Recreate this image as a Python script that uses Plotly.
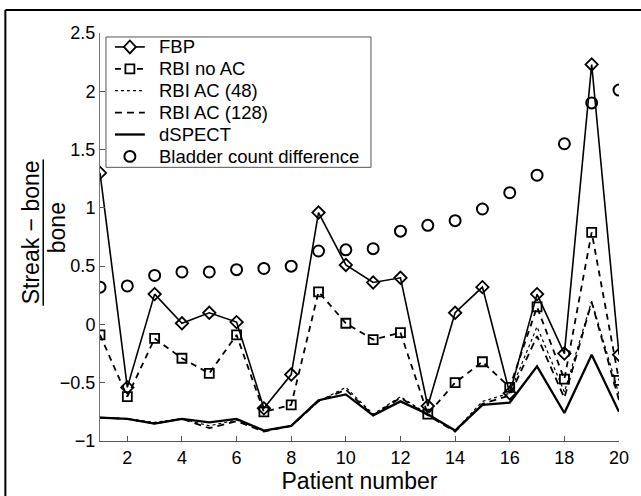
import plotly.graph_objects as go

patients = list(range(1, 21))
fbp = [1.30, -0.54, 0.26, 0.01, 0.10, 0.02, -0.72, -0.43, 0.96, 0.51,
       0.36, 0.40, -0.70, 0.10, 0.32, -0.59, 0.26, -0.25, 2.23, -0.26]
rbi_no_ac = [-0.09, -0.62, -0.12, -0.29, -0.42, -0.09, -0.75, -0.69, 0.28, 0.01,
             -0.13, -0.07, -0.77, -0.50, -0.32, -0.54, 0.15, -0.47, 0.79, -0.48]
rbi_ac48 = [-0.80, -0.81, -0.84, -0.81, -0.87, -0.82, -0.91, -0.87, -0.66, -0.54,
            -0.77, -0.62, -0.77, -0.91, -0.66, -0.59, -0.02, -0.58, 0.20, -0.60]
rbi_ac128 = [-0.80, -0.81, -0.85, -0.81, -0.89, -0.83, -0.92, -0.87, -0.66, -0.56,
             -0.78, -0.63, -0.78, -0.92, -0.68, -0.61, -0.10, -0.63, 0.19, -0.65]
dspect = [-0.80, -0.81, -0.85, -0.81, -0.84, -0.81, -0.91, -0.87, -0.65, -0.60,
          -0.78, -0.66, -0.77, -0.91, -0.69, -0.67, -0.36, -0.76, -0.26, -0.75]
bladder = [0.32, 0.33, 0.42, 0.45, 0.45, 0.47, 0.48, 0.50, 0.63, 0.64,
           0.65, 0.80, 0.85, 0.89, 0.99, 1.13, 1.28, 1.55, 1.90, 2.01]

series_names = ["FBP", "RBI no AC", "RBI AC (48)", "RBI AC (128)", "dSPECT",
                "Bladder count difference"]

x_ticks = [2, 4, 6, 8, 10, 12, 14, 16, 18, 20]
y_ticks = [-1, -0.5, 0, 0.5, 1, 1.5, 2, 2.5]
y_tick_text = ["\u22121", "\u22120.5", "0", "0.5", "1", "1.5", "2", "2.5"]

FONT = "Liberation Sans, Arial, Helvetica, sans-serif"

styles = [
    dict(mode="lines+markers", line=dict(color="black", width=1.6),
         marker=dict(symbol="diamond-open", size=9.5, color="black",
                     line=dict(color="black", width=1.8))),
    dict(mode="lines+markers", line=dict(color="black", width=1.8, dash="6px,5px"),
         marker=dict(symbol="square-open", size=9, color="black",
                     line=dict(color="black", width=1.8))),
    dict(mode="lines", line=dict(color="black", width=1.2, dash="dot")),
    dict(mode="lines", line=dict(color="black", width=1.8, dash="7px,5px")),
    dict(mode="lines", line=dict(color="black", width=2.3)),
    dict(mode="markers", marker=dict(symbol="circle-open", size=11, color="black",
                                     line=dict(color="black", width=2))),
]
values = [fbp, rbi_no_ac, rbi_ac48, rbi_ac128, dspect, bladder]

fig = go.Figure()
for name, vals, st in zip(series_names, values, styles):
    fig.add_trace(go.Scatter(x=patients, y=vals, name=name, showlegend=False, **st))

L, R, T, B = 100, 20, 33, 53
W, H = 641, 496
pw, ph = W - L - R, H - T - B


def px_x(p):
    return (p - L) / pw


def px_y(p):
    return (H - B - p) / ph


fig.update_layout(
    width=W, height=H,
    margin=dict(l=L, r=R, t=T, b=B),
    paper_bgcolor="white", plot_bgcolor="white",
    font=dict(family=FONT, size=18, color="black"),
    showlegend=False,
    xaxis=dict(range=[1, 20], tickvals=x_ticks, ticks="inside", ticklen=5,
               tickcolor="#555555", showline=True, linecolor="#555555", linewidth=1,
               showgrid=False, zeroline=False, mirror=False,
               tickfont=dict(family=FONT, size=18, color="black"),
               title=dict(text="Patient number", font=dict(family=FONT, size=23, color="black"),
                          standoff=0)),
    yaxis=dict(range=[-1, 2.5], tickvals=y_ticks, ticktext=y_tick_text, ticks="inside",
               ticklen=5, tickcolor="#555555", showline=True, linecolor="#777777",
               linewidth=1, showgrid=False, zeroline=False, mirror=False,
               tickfont=dict(family=FONT, size=18, color="black")),
)

# y-axis title as a fraction
fig.add_annotation(text="Streak \u2212 bone", xref="paper", yref="paper",
                   x=px_x(31), y=px_y(233), xanchor="center", yanchor="middle",
                   textangle=-90, showarrow=False,
                   font=dict(family=FONT, size=23, color="black"))
fig.add_annotation(text="bone", xref="paper", yref="paper",
                   x=px_x(57), y=px_y(229), xanchor="center", yanchor="middle",
                   textangle=-90, showarrow=False,
                   font=dict(family=FONT, size=23, color="black"))
fig.add_shape(type="line", xref="paper", yref="paper",
              x0=px_x(43), x1=px_x(43), y0=px_y(160), y1=px_y(307),
              line=dict(color="black", width=1.5))

# manual legend
fig.add_shape(type="rect", xref="paper", yref="paper",
              x0=px_x(106), x1=px_x(372), y0=px_y(168), y1=px_y(37),
              line=dict(color="#555555", width=1), fillcolor="white", layer="above")
row_y = [47 + 22 * i for i in range(6)]
sx0, sx1, scx, tx = 115, 145, 130, 159
legend_dash = ["solid", "6px,5px", "dot", "7px,5px", "solid", None]
legend_width = [1.6, 1.8, 1.2, 1.8, 2.3, None]
for i, (name, ry) in enumerate(zip(series_names, row_y)):
    if legend_dash[i] is not None:
        fig.add_shape(type="line", xref="paper", yref="paper",
                      x0=px_x(sx0), x1=px_x(sx1), y0=px_y(ry), y1=px_y(ry),
                      line=dict(color="black", width=legend_width[i], dash=legend_dash[i]),
                      layer="above")
    if i == 0:
        path = "M {},{} L {},{} L {},{} L {},{} Z".format(
            px_x(scx - 6), px_y(ry), px_x(scx), px_y(ry - 6.5),
            px_x(scx + 6), px_y(ry), px_x(scx), px_y(ry + 6.5))
        fig.add_shape(type="path", xref="paper", yref="paper", path=path,
                      line=dict(color="black", width=1.8), fillcolor="white", layer="above")
    elif i == 1:
        fig.add_shape(type="rect", xref="paper", yref="paper",
                      x0=px_x(scx - 4.5), x1=px_x(scx + 4.5),
                      y0=px_y(ry + 4.5), y1=px_y(ry - 4.5),
                      line=dict(color="black", width=1.8), fillcolor="white", layer="above")
    elif i == 5:
        fig.add_shape(type="circle", xref="paper", yref="paper",
                      x0=px_x(scx - 5.5), x1=px_x(scx + 5.5),
                      y0=px_y(ry + 5.5), y1=px_y(ry - 5.5),
                      line=dict(color="black", width=2), fillcolor="white", layer="above")
    fig.add_annotation(text=name, xref="paper", yref="paper",
                       x=px_x(tx), y=px_y(ry), xanchor="left", yanchor="middle",
                       showarrow=False, xshift=-2,
                       font=dict(family=FONT, size=18.5, color="black"))

# outer frame (left and top edges visible in the reference)
fig.add_shape(type="line", xref="paper", yref="paper",
              x0=px_x(5), x1=px_x(5), y0=px_y(500), y1=px_y(10),
              line=dict(color="black", width=2), layer="above")
fig.add_shape(type="line", xref="paper", yref="paper",
              x0=px_x(5), x1=px_x(645), y0=px_y(10), y1=px_y(10),
              line=dict(color="black", width=2), layer="above")

fig.write_html("out.html", config={"displayModeBar": False},
               post_script="document.body.style.margin='0';document.body.style.overflow='hidden';")
